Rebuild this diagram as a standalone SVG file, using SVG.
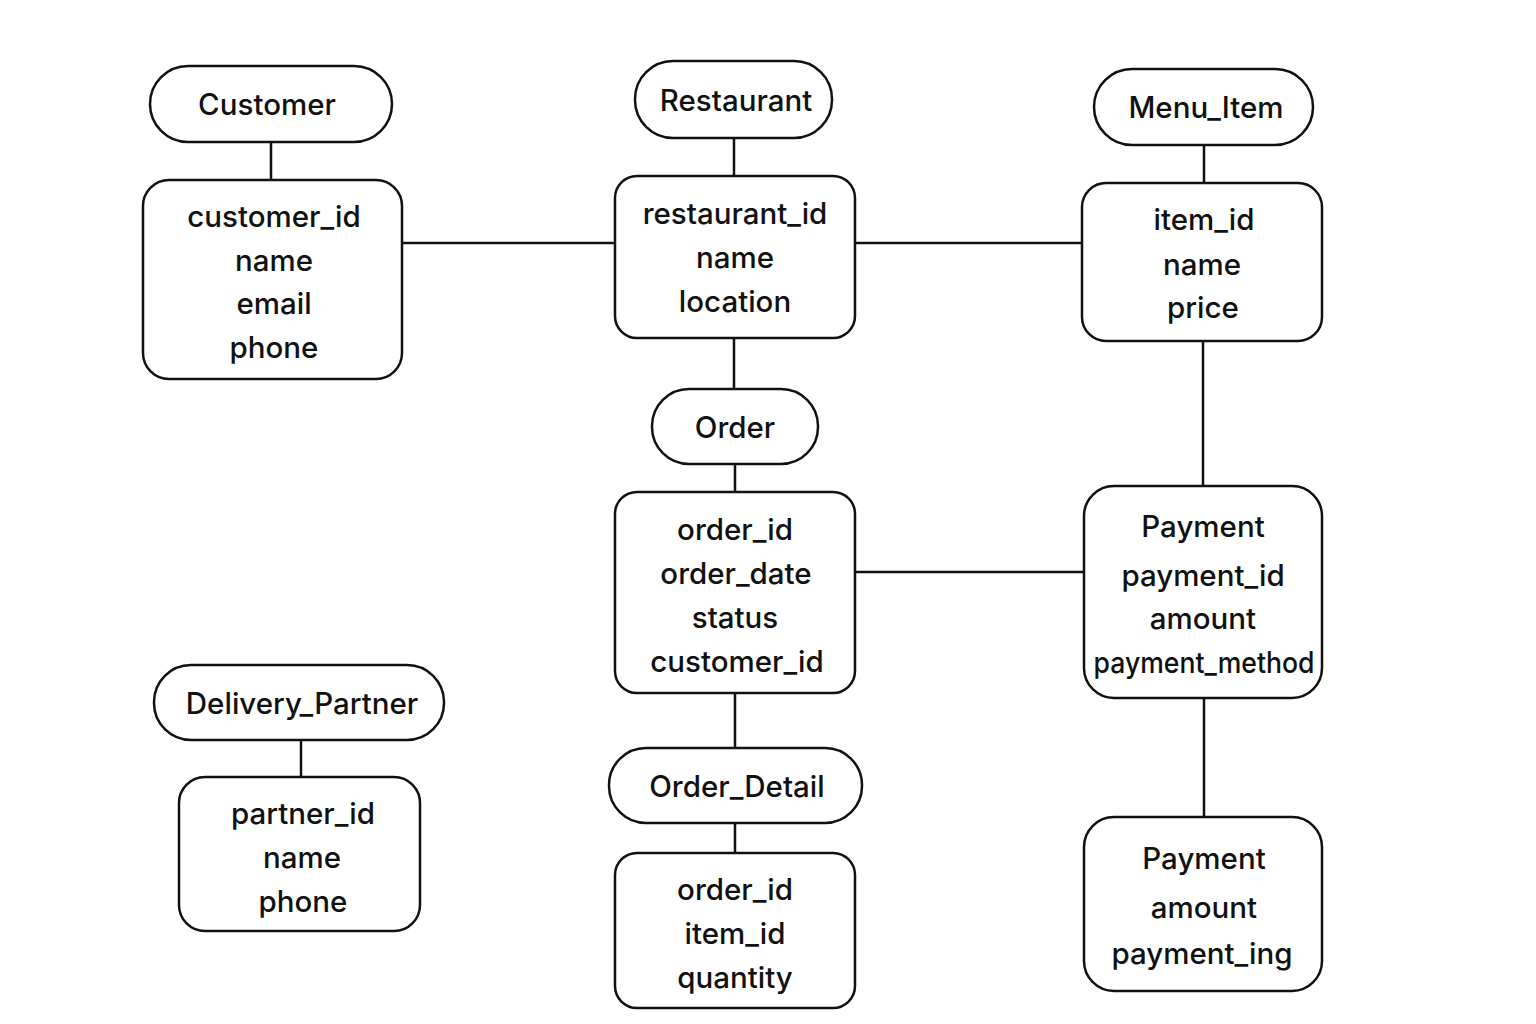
<svg xmlns="http://www.w3.org/2000/svg" width="1536" height="1024" viewBox="0 0 1536 1024">
<style>
.pill{fill:#fff;stroke:#111;stroke-width:2.5}
.box{fill:#fff;stroke:#111;stroke-width:2.5}
.t{font-family:Inter,"Liberation Sans",sans-serif;font-size:29.5px;font-weight:500;fill:#111;text-anchor:middle;dominant-baseline:central}
.c line{stroke:#111;stroke-width:2.5}
</style>
<rect width="1536" height="1024" fill="#fff"/>
<g class="c" id="connectors">
<line x1="271" y1="142" x2="271" y2="180"/>
<line x1="402" y1="243" x2="615" y2="243"/>
<line x1="855" y1="243" x2="1082" y2="243"/>
<line x1="734" y1="138" x2="734" y2="176"/>
<line x1="734" y1="338" x2="734" y2="389"/>
<line x1="1204" y1="145" x2="1204" y2="183"/>
<line x1="1203" y1="341" x2="1203" y2="486"/>
<line x1="735" y1="464" x2="735" y2="492"/>
<line x1="735" y1="693" x2="735" y2="748"/>
<line x1="855" y1="572" x2="1084" y2="572"/>
<line x1="1204" y1="698" x2="1204" y2="817"/>
<line x1="735" y1="823" x2="735" y2="853"/>
<line x1="301" y1="740" x2="301" y2="777"/>
</g>
<g id="customer">
<rect class="pill" x="150" y="66" width="242" height="76" rx="38"/>
<text class="t" x="267" y="104">Customer</text>
<rect class="box" x="143" y="180" width="259" height="199" rx="26"/>
<text class="t" x="274" y="216">customer_id</text>
<text class="t" x="274" y="260">name</text>
<text class="t" x="274" y="303">email</text>
<text class="t" x="274" y="347">phone</text>
</g>
<g id="restaurant">
<rect class="pill" x="635" y="61" width="197" height="77" rx="38"/>
<text class="t" x="736" y="100">Restaurant</text>
<rect class="box" x="615" y="176" width="240" height="162" rx="22"/>
<text class="t" x="735" y="213">restaurant_id</text>
<text class="t" x="735" y="257">name</text>
<text class="t" x="735" y="301">location</text>
</g>
<g id="menu_item">
<rect class="pill" x="1094" y="69" width="219" height="76" rx="38"/>
<text class="t" x="1206" y="107">Menu_Item</text>
<rect class="box" x="1082" y="183" width="240" height="158" rx="24"/>
<text class="t" x="1204" y="219">item_id</text>
<text class="t" x="1202" y="264">name</text>
<text class="t" x="1203" y="307">price</text>
</g>
<g id="order">
<rect class="pill" x="652" y="389" width="166" height="75" rx="37"/>
<text class="t" x="735" y="427">Order</text>
<rect class="box" x="615" y="492" width="240" height="201" rx="22"/>
<text class="t" x="735" y="529">order_id</text>
<text class="t" x="736" y="573">order_date</text>
<text class="t" x="735" y="617">status</text>
<text class="t" x="737" y="661">customer_id</text>
</g>
<g id="payment">
<rect class="box" x="1084" y="486" width="238" height="212" rx="30"/>
<text class="t" x="1203" y="526">Payment</text>
<text class="t" x="1203" y="575">payment_id</text>
<text class="t" x="1203" y="618">amount</text>
<text class="t" x="1204" y="662" textLength="221" lengthAdjust="spacingAndGlyphs">payment_method</text>
</g>
<g id="payment2">
<rect class="box" x="1084" y="817" width="238" height="174" rx="30"/>
<text class="t" x="1204" y="858">Payment</text>
<text class="t" x="1204" y="907">amount</text>
<text class="t" x="1202" y="953">payment_ing</text>
</g>
<g id="order_detail">
<rect class="pill" x="609" y="748" width="253" height="75" rx="37"/>
<text class="t" x="737" y="786">Order_Detail</text>
<rect class="box" x="615" y="853" width="240" height="155" rx="22"/>
<text class="t" x="735" y="889">order_id</text>
<text class="t" x="735" y="933">item_id</text>
<text class="t" x="735" y="977">quantity</text>
</g>
<g id="delivery_partner">
<rect class="pill" x="154" y="665" width="290" height="75" rx="37"/>
<text class="t" x="302" y="703">Delivery_Partner</text>
<rect class="box" x="179" y="777" width="241" height="154" rx="26"/>
<text class="t" x="303" y="813">partner_id</text>
<text class="t" x="302" y="857">name</text>
<text class="t" x="303" y="901">phone</text>
</g>
</svg>
